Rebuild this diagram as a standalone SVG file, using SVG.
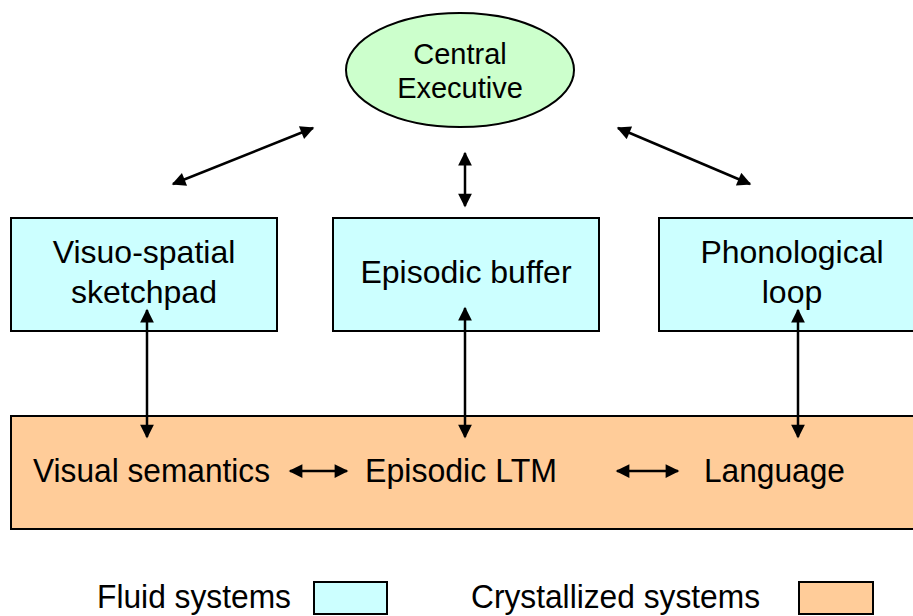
<svg xmlns="http://www.w3.org/2000/svg" width="913" height="616" viewBox="0 0 913 616">
<style>
  .t { font-family: "Liberation Sans", Arial, sans-serif; fill: #000; text-anchor: middle; }
  .n { font-family: "Liberation Sans", Arial, sans-serif; fill: #000; }
  .fluid { fill: #CCFFFF; stroke: #000; stroke-width: 2; }
  .cryst { fill: #FFCC99; stroke: #000; stroke-width: 2; }
  .conn { stroke: #000; stroke-width: 2.5; fill: none; marker-start: url(#ah); marker-end: url(#ah); }
</style>
<defs>
  <marker id="ah" viewBox="0 0 10 10" refX="9" refY="5" markerWidth="6" markerHeight="5.5" markerUnits="strokeWidth" orient="auto-start-reverse">
    <path d="M0,0 L10,5 L0,10 z" fill="#000"/>
  </marker>
</defs>
<rect width="913" height="616" fill="#fff"/>

<g id="crystallized">
  <rect class="cryst" x="11" y="416" width="920" height="113"/>
  <text class="n" x="33" y="482" font-size="33" textLength="237" lengthAdjust="spacingAndGlyphs">Visual semantics</text>
  <text class="n" x="365" y="482" font-size="33" textLength="192" lengthAdjust="spacingAndGlyphs">Episodic LTM</text>
  <text class="n" x="704" y="482" font-size="33" textLength="141" lengthAdjust="spacingAndGlyphs">Language</text>
</g>

<g id="central-executive">
  <ellipse cx="460" cy="70" rx="114" ry="57" fill="#CCFFCC" stroke="#000" stroke-width="2"/>
  <text class="t" x="460" y="64" font-size="29">Central</text>
  <text class="t" x="460" y="98" font-size="29">Executive</text>
</g>

<g id="visuo-spatial">
  <rect class="fluid" x="11" y="218" width="266" height="113"/>
  <text class="t" x="144" y="263" font-size="32">Visuo-spatial</text>
  <text class="t" x="144" y="303" font-size="32">sketchpad</text>
</g>

<g id="episodic-buffer">
  <rect class="fluid" x="333" y="218" width="266" height="113"/>
  <text class="t" x="466" y="283" font-size="32">Episodic buffer</text>
</g>

<g id="phonological">
  <rect class="fluid" x="659" y="218" width="266" height="113"/>
  <text class="t" x="792" y="263" font-size="32">Phonological</text>
  <text class="t" x="792" y="303" font-size="32">loop</text>
</g>

<g id="connectors">
  <line class="conn" x1="313" y1="128" x2="173" y2="184"/>
  <line class="conn" x1="465" y1="153" x2="465" y2="206"/>
  <line class="conn" x1="618" y1="128" x2="750" y2="184"/>
  <line class="conn" x1="147" y1="310" x2="147" y2="437"/>
  <line class="conn" x1="465" y1="308" x2="465" y2="437"/>
  <line class="conn" x1="798" y1="310" x2="798" y2="437"/>
  <line class="conn" x1="290" y1="471" x2="347" y2="471"/>
  <line class="conn" x1="617" y1="471" x2="678" y2="471"/>
</g>

<g id="legend">
  <text class="n" x="97" y="608" font-size="33" textLength="194" lengthAdjust="spacingAndGlyphs">Fluid systems</text>
  <rect class="fluid" x="314" y="582" width="73" height="32" stroke-width="1.5"/>
  <text class="n" x="471" y="608" font-size="33" textLength="289" lengthAdjust="spacingAndGlyphs">Crystallized systems</text>
  <rect class="cryst" x="799" y="582" width="74" height="32" stroke-width="1.5"/>
</g>
</svg>
